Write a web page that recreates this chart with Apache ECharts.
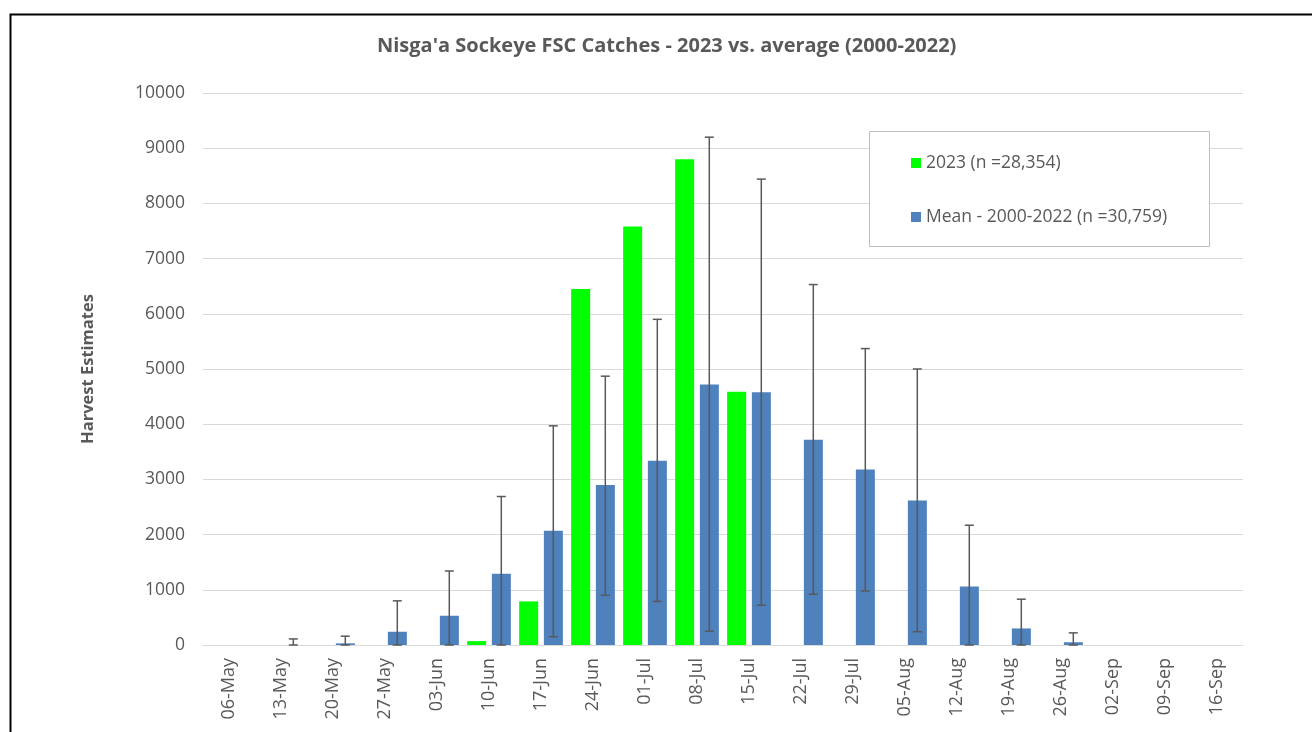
<!DOCTYPE html>
<html>
<head>
<meta charset="utf-8">
<script src="https://cdn.jsdelivr.net/npm/echarts@6/dist/echarts.min.js"></script>
<style>
  html, body { margin: 0; padding: 0; background: #fff; }
  #chart { width: 1312px; height: 732px; }
</style>
</head>
<body>
<div id="chart"></div>
<script>
var weeks = ['06-May','13-May','20-May','27-May','03-Jun','10-Jun','17-Jun','24-Jun','01-Jul','08-Jul',
             '15-Jul','22-Jul','29-Jul','05-Aug','12-Aug','19-Aug','26-Aug','02-Sep','09-Sep','16-Sep'];
var catch2023 = [null,null,null,null,null,70,790,6450,7580,8800,4590,null,null,null,null,null,null,null,null,null];
var meanCatch = [null,0,30,240,530,1290,2070,2900,3340,4720,4580,3720,3180,2620,1060,300,50,null,null,null];
var errLow =    [null,0,0,0,0,0,150,900,790,250,720,920,980,240,0,0,0,null,null,null];
var errHigh =   [null,110,160,800,1340,2690,3970,4870,5900,9200,8440,6530,5370,5000,2170,830,220,null,null,null];

var textColor = '#595959';
var font = 'Open Sans';

var errData = [];
for (var i = 0; i < weeks.length; i++) {
  if (errHigh[i] != null) errData.push([i, errLow[i], errHigh[i]]);
}

var myChart = echarts.init(document.getElementById('chart'));
var option = {
  animation: false,
  title: {
    text: "Nisga'a Sockeye FSC Catches - 2023 vs. average (2000-2022)",
    left: 372,
    top: 31,
    textStyle: { fontFamily: font, fontSize: 20, fontWeight: 'bold', color: textColor }
  },
  legend: {
    orient: 'vertical',
    left: 906,
    top: 149,
    itemWidth: 10,
    itemHeight: 10,
    itemGap: 36,
    icon: 'rect',
    z: 10,
    data: ['2023 (n =28,354)', 'Mean - 2000-2022 (n =30,759)'],
    textStyle: { fontFamily: font, fontSize: 17.5, color: textColor }
  },
  graphic: [
    { type: 'rect', left: 8, top: 12, z: 1,
      shape: { width: 1330, height: 760 },
      style: { fill: 'none', stroke: '#000', lineWidth: 2 } },
    { type: 'rect', left: 869, top: 131, z: 5,
      shape: { width: 340, height: 115 },
      style: { fill: '#fff', stroke: '#BFBFBF', lineWidth: 1 } }
  ],
  grid: { left: 203, right: 69, top: 93, bottom: 87 },
  xAxis: {
    type: 'category',
    data: weeks,
    axisLine: { lineStyle: { color: '#D9D9D9' } },
    axisTick: { show: false },
    axisLabel: { rotate: 90, margin: 13, fontFamily: font, fontSize: 18, color: textColor, interval: 0 }
  },
  yAxis: {
    type: 'value',
    min: 0,
    max: 10000,
    interval: 1000,
    name: 'Harvest Estimates',
    nameLocation: 'middle',
    nameGap: 106,
    nameTextStyle: { fontFamily: font, fontSize: 16.5, fontWeight: 'bold', color: textColor },
    axisLabel: { fontFamily: font, fontSize: 17.5, color: textColor, margin: 18,
                 formatter: function (v) { return String(v); } },
    splitLine: { lineStyle: { color: '#D9D9D9' } },
    axisLine: { show: false },
    axisTick: { show: false }
  },
  series: [
    {
      name: '2023 (n =28,354)',
      type: 'bar',
      data: catch2023,
      barWidth: 19,
      barGap: '30%',
      itemStyle: { color: '#00FF00' }
    },
    {
      name: 'Mean - 2000-2022 (n =30,759)',
      type: 'bar',
      data: meanCatch,
      barWidth: 19,
      itemStyle: { color: '#4F81BD' }
    },
    {
      type: 'custom',
      name: 'error',
      data: errData,
      encode: { x: 0, y: [1, 2] },
      z: 5,
      renderItem: function (params, api) {
        var lo = api.coord([api.value(0), api.value(1)]);
        var hi = api.coord([api.value(0), api.value(2)]);
        var x = lo[0] + 12.3;
        var cap = 4.5;
        var st = { stroke: '#595959', lineWidth: 1.5 };
        return {
          type: 'group',
          children: [
            { type: 'line', shape: { x1: x, y1: lo[1], x2: x, y2: hi[1] }, style: st },
            { type: 'line', shape: { x1: x - cap, y1: hi[1], x2: x + cap, y2: hi[1] }, style: st },
            { type: 'line', shape: { x1: x - cap, y1: lo[1], x2: x + cap, y2: lo[1] }, style: st }
          ]
        };
      }
    }
  ]
};
myChart.setOption(option);
</script>
</body>
</html>
